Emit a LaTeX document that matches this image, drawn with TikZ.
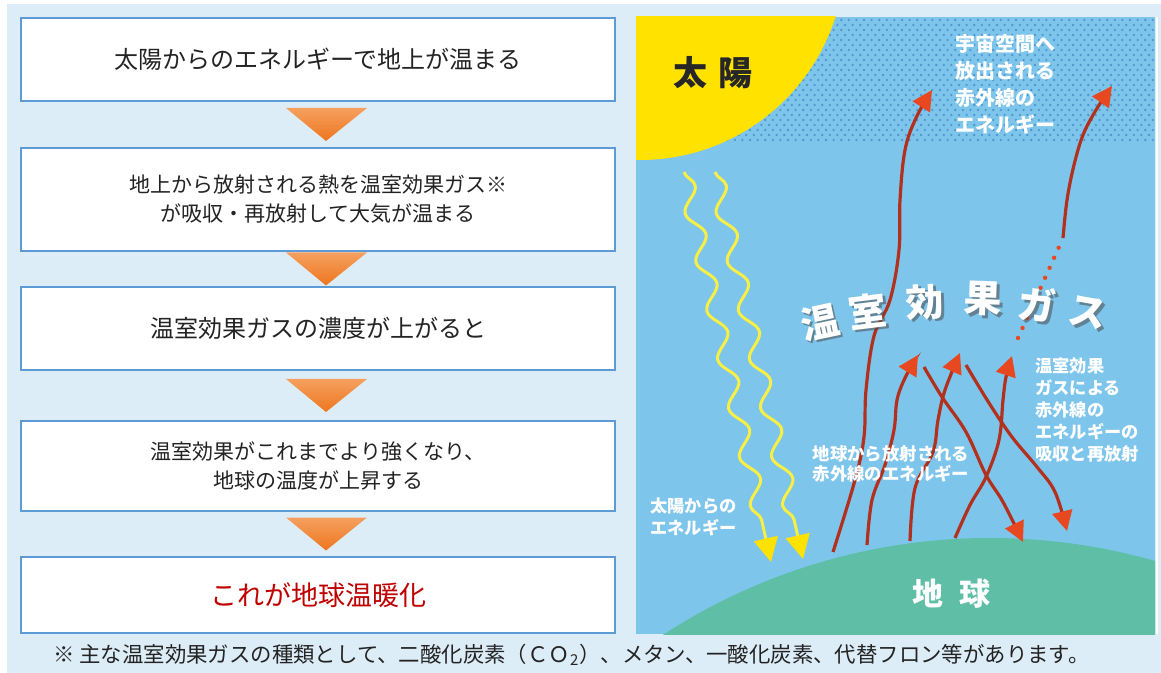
\documentclass[tikz,border=0pt]{standalone}
\usepackage{fontspec}
\setmainfont{Noto Sans CJK JP}
\usetikzlibrary{arrows.meta,positioning,calc,decorations.pathmorphing}

\definecolor{pageblue}{RGB}{221,237,248}
\definecolor{boxline}{RGB}{92,155,213}
\definecolor{textgray}{RGB}{35,35,35}
\definecolor{warmred}{RGB}{192,0,0}
\definecolor{tritop}{RGB}{245,160,95}
\definecolor{tribot}{RGB}{238,118,30}
\definecolor{sky}{RGB}{126,197,236}
\definecolor{skydot}{RGB}{78,150,208}
\definecolor{sunyellow}{RGB}{255,226,0}
\definecolor{rayyellow}{RGB}{247,238,70}
\definecolor{earthgreen}{RGB}{94,190,166}
\definecolor{irline}{RGB}{178,48,30}
\definecolor{irhead}{RGB}{232,72,32}

\begin{document}
\begin{tikzpicture}[x=0.5pt,y=-0.5pt,
    stepbox/.style={draw=boxline,line width=1.3pt,fill=white,minimum width=297pt,
      inner sep=0pt,align=center,text=textgray},
    ir/.style={irline,line width=1.6pt,-{Triangle[length=10pt,width=10pt,color=irhead]}},
    sunray/.style={rayyellow,line width=1.5pt,decorate,
      decoration={snake,amplitude=4pt,segment length=25pt,post length=12pt},
      -{Triangle[length=12pt,width=12pt,color=sunyellow]}},
    whitelbl/.style={text=white,inner sep=0pt,align=left,
      font=\bfseries\fontsize{8.6}{11}\selectfont},
    gaschar/.style={text=white,inner sep=0pt,font=\bfseries\fontsize{19}{19}\selectfont},
    gasshade/.style={text=black!70,opacity=.55,inner sep=0pt,font=\bfseries\fontsize{19}{19}\selectfont}]
  \useasboundingbox (0,0) rectangle (1161,673);
  \fill[white] (0,0) rectangle (1161,673);
  \fill[pageblue] (7,4) rectangle (1161,673);

  % flow of boxes on the left
  \node[stepbox,minimum height=41.5pt,font=\fontsize{12}{14}\selectfont] (b1) at (318,59.5)
    {太陽からのエネルギーで地上が温まる};
  \node[stepbox,minimum height=51.5pt,font=\fontsize{10.5}{14.5}\selectfont] (b2) at (318,199.5)
    {地上から放射される熱を温室効果ガス※\\が吸収・再放射して大気が温まる};
  \node[stepbox,minimum height=41.5pt,font=\fontsize{12}{14}\selectfont] (b3) at (318,328.5)
    {温室効果ガスの濃度が上がると};
  \node[stepbox,minimum height=45pt,font=\fontsize{10.5}{14.5}\selectfont] (b4) at (318,466)
    {温室効果がこれまでより強くなり、\\地球の温度が上昇する};
  \node[stepbox,minimum height=38pt,font=\fontsize{13.5}{15}\selectfont,text=warmred] (b5) at (318,595)
    {これが地球温暖化};

  \foreach \a/\b in {b1/b2,b2/b3,b3/b4,b4/b5} {
    \coordinate (m) at ($(\a.south)!0.5!(\b.north)$);
    \shade[top color=tritop,bottom color=tribot]
      ($(m)+(-32,-16.5)$) -- ($(m)+(49,-16.5)$) -- ($(m)+(8,16.5)$) -- cycle;
  }

  \node[anchor=west,inner sep=0pt,text=textgray,font=\fontsize{10.7}{12}\selectfont] (note) at (53,655)
    {※ 主な温室効果ガスの種類として、二酸化炭素（ＣＯ\textsubscript{2}）、メタン、一酸化炭素、代替フロン等があります。};

  % the greenhouse picture
  \begin{scope}
    \clip (636,17) rectangle (1155,634);
    \fill[sky] (636,17) rectangle (1155,634);
    \foreach \r [evaluate=\r as \ph using {mod(\r,2)*1.9}] in {0,...,24}
      \draw[skydot,line width=1.3pt,line cap=round,dash pattern=on 0pt off 3.8pt,dash phase=\ph pt]
        (636,{20+5*\r}) -- (1155,{20+5*\r});
    \fill[sunyellow] (640,-45) circle[radius=205];
    \fill[earthgreen] (990,1138) circle[radius=600];
  \end{scope}
  \draw[white,line width=1pt] (1156.5,17) -- (1156.5,634);

  \node[font=\bfseries\fontsize{17}{17}\selectfont,text=black!85,inner sep=0pt] (sun) at (713,73)
    {太\hspace{6pt}陽};
  \node[text=white,inner sep=0pt,font=\bfseries\fontsize{15.5}{15.5}\selectfont] (earth) at (951,594)
    {地\hspace{8pt}球};

  % sunlight coming down
  \coordinate (s1) at (684,172);
  \coordinate (s2) at (715,172);
  \coordinate (h1) at (771,562);
  \coordinate (h2) at (803,559);
  \draw[sunray] (s1) -- (h1);
  \draw[sunray] (s2) -- (h2);

  % infrared going up, absorbed and sent back
  \coordinate (g1) at (833,552);
  \coordinate (g2) at (867,545);
  \coordinate (g3) at (910,541);
  \coordinate (g4) at (955,538);
  \coordinate (t1) at (932,90);
  \coordinate (t2) at (918,355);
  \coordinate (t3) at (960,353);
  \coordinate (t4) at (1012,356);
  \coordinate (d1) at (1023,542);
  \coordinate (d2) at (1067,531);
  \coordinate (u1) at (1063,238);
  \coordinate (u2) at (1112,86);
  \coordinate (p1) at (1018,338);

  \draw[ir] plot[smooth,tension=0.6] coordinates {(g1) (855,480) (864,437) (866,390) (874,336)
    (890,300) (899,250) (900,200) (905,150) (916,118) (t1)};
  \draw[ir] plot[smooth,tension=0.6] coordinates {(g2) (872,500) (885,465) (894,430) (897,400)
    (905,378) (t2)};
  \draw[ir] plot[smooth,tension=0.6] coordinates {(g3) (915,488) (933,452) (938,420) (945,390) (t3)};
  \draw[ir] plot[smooth,tension=0.6] coordinates {(g4) (970,505) (986,477) (999,440) (1003,400)
    (1006,377) (t4)};
  \draw[ir] plot[smooth,tension=0.6] coordinates {($(t2)+(6,12)$) (942,397) (966,432) (986,475)
    (1003,502) (d1)};
  \draw[ir] plot[smooth,tension=0.6] coordinates {($(t3)+(6,12)$) (989,403) (1012,437) (1037,467)
    (1055,492) (d2)};
  \draw[ir] plot[smooth,tension=0.6] coordinates {(u1) (1067,200) (1074,165) (1083,135) (1096,110) (u2)};
  \draw[irhead,line width=2.2pt,line cap=round,dash pattern=on 0pt off 5.5pt] (p1) -- (u1);

  % labels in the sky
  \node[whitelbl,anchor=north west,font=\bfseries\fontsize{10}{13.5}\selectfont] (space) at (955,34)
    {宇宙空間へ\\放出される\\赤外線の\\エネルギー};
  \node[whitelbl,anchor=north west] (absorb) at (1035,357)
    {温室効果\\ガスによる\\赤外線の\\エネルギーの\\吸収と再放射};
  \node[whitelbl,align=center,font=\bfseries\fontsize{8.7}{9.6}\selectfont] (fromearth) at (891,464)
    {地球から放射される\\赤外線のエネルギー};
  \node[whitelbl,anchor=north west] (fromsun) at (650,497)
    {太陽からの\\エネルギー};

  \foreach \c/\x/\y/\a [count=\i] in {温/820/322/12,室/868/311/7,効/925/302/3,
      果/983/299/-2,ガ/1037/305/-6,ス/1088/313/-10} {
    \node[gasshade,rotate=\a] at (\x+2.5,\y+2.5) {\c};
    \node[gaschar,rotate=\a] (gas\i) at (\x,\y) {\c};
  }
\end{tikzpicture}
\end{document}
